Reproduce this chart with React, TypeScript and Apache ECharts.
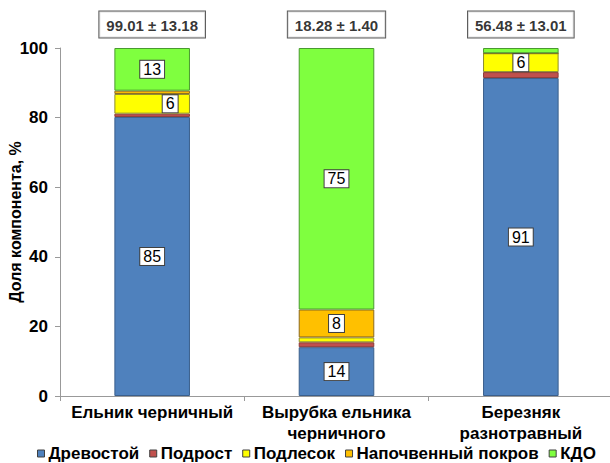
import React, { useEffect, useRef } from "react";
import * as echarts from "echarts";

const categories = ["Ельник черничный", "Вырубка ельника\nчерничного", "Березняк\nразнотравный"];
const seriesNames = ["Древостой", "Подрост", "Подлесок", "Напочвенный покров", "КДО"];
// raw component amounts per category (stacked to 100%)
const drevostoy = [85, 14, 91];
const podrost = [1, 1.4, 1.7];
const podlesok = [6, 1.4, 5.4];
const napochv = [1, 8, 0];
const kdo = [13, 75, 1.5];
// labels shown on segments (null = not shown)
const drevostoyLabels = [85, 14, 91];
const podrostLabels = [null, null, null];
const podlesokLabels = [6, null, 6];
const napochvLabels = [null, 8, null];
const kdoLabels = [13, 75, null];
const totalsLabels = ["99.01 ± 13.18", "18.28 ± 1.40", "56.48 ± 13.01"];
const colors = ["#4F81BD", "#C0504D", "#FFFF00", "#FFC000", "#7FFF3F"];
const borderColors = ["#3A5F8C", "#8C3A38", "#8C8C30", "#8C6A20", "#4A9A30"];

const FONT = "Liberation Sans, Arial, sans-serif";

export default function App() {
  const ref = useRef<HTMLDivElement>(null);
  useEffect(() => {
    if (!ref.current) return;
    const chart = echarts.init(ref.current, null, { renderer: "svg" });
    const raw = [drevostoy, podrost, podlesok, napochv, kdo];
    const labels = [drevostoyLabels, podrostLabels, podlesokLabels, napochvLabels, kdoLabels];
    const sums = categories.map((_, i) => raw.reduce((s, arr) => s + arr[i], 0));
    const labelStyle = {
      backgroundColor: "#fff",
      borderColor: "#404040",
      borderWidth: 1,
      padding: [1, 3, 0, 3],
      color: "#000",
      fontSize: 16,
      fontFamily: FONT,
    };
    const barSeries = raw.map((arr, si) => ({
      name: seriesNames[si],
      type: "bar",
      stack: "total",
      barWidth: "41%",
      itemStyle: { color: colors[si], borderColor: borderColors[si], borderWidth: 1 },
      data: arr.map((v, i) => {
        const lab = labels[si][i];
        const item: any = { value: (v / sums[i]) * 100 };
        if (lab !== null) {
          item.label = {
            show: true,
            position: "inside",
            formatter: String(lab),
            ...labelStyle,
            offset: si === 2 && i === 0 ? [18, 0] : [0, 0],
          };
        } else {
          item.label = { show: false };
        }
        return item;
      }),
    }));
    const option = {
      animation: false,
      legend: {
        top: 440,
        left: 32,
        width: 800,
        icon: "rect",
        itemWidth: 7,
        itemHeight: 7,
        itemGap: 10,
        data: seriesNames.map((n) => ({
          name: n,
          itemStyle: { borderColor: "#404040", borderWidth: 1 },
        })),
        textStyle: { fontSize: 17, fontWeight: "bold", color: "#000", fontFamily: FONT, padding: [0, 0, 0, -1] },
      },
      grid: { left: 60, right: -3, top: 48, bottom: 67, outerBoundsMode: "none", containLabel: false },
      xAxis: {
        type: "category",
        data: categories,
        axisLine: { lineStyle: { color: "#999" } },
        axisTick: { show: true, length: 5, lineStyle: { color: "#999" } },
        axisLabel: {
          interval: 0,
          color: "#000",
          fontSize: 17,
          fontWeight: "bold",
          lineHeight: 21,
          margin: 6,
          fontFamily: FONT,
        },
      },
      yAxis: {
        type: "value",
        min: 0,
        max: 100,
        interval: 20,
        name: "Доля компонента, %",
        nameLocation: "middle",
        nameGap: 37,
        nameMoveOverlap: false,
        nameTextStyle: { fontSize: 16, fontWeight: "bold", color: "#000", fontFamily: FONT },
        axisLine: { show: true, lineStyle: { color: "#999" } },
        axisTick: { show: true, length: 5, lineStyle: { color: "#999" } },
        splitLine: { show: false },
        axisLabel: { color: "#000", fontSize: 17, fontWeight: "bold", margin: 12, fontFamily: FONT },
      },
      series: [
        ...barSeries,
        {
          name: "totals",
          type: "scatter",
          symbol: "circle",
          symbolSize: 1,
          itemStyle: { color: "rgba(0,0,0,0)" },
          silent: true,
          z: 10,
          data: totalsLabels.map((t) => ({
            value: 100,
            label: {
              show: true,
              position: "top",
              distance: 10,
              formatter: t,
              backgroundColor: "#fff",
              borderColor: "#333",
              borderWidth: 1,
              padding: [6, 7, 5, 7],
              color: "#000",
              fontSize: 15,
              fontWeight: "bold",
              fontFamily: FONT,
            },
          })),
        },
      ],
    };
    chart.setOption(option as any);
    return () => chart.dispose();
  }, []);
  return <div ref={ref} style={{ width: 610, height: 463, position: "absolute", left: 0, top: 0 }} />;
}
